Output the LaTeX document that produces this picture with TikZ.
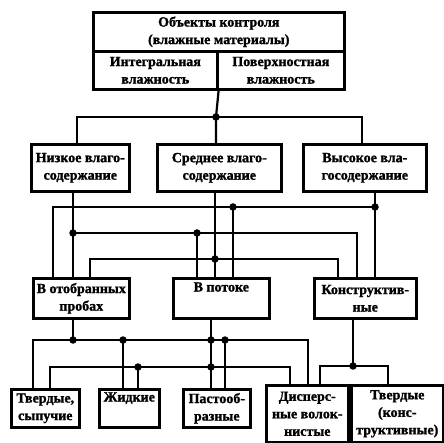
\documentclass[tikz,border=0pt]{standalone}
\usepackage{fontspec}
\setmainfont{Liberation Serif}[BoldFeatures={FakeBold=1.4}]
\begin{document}
\begin{tikzpicture}[x=1pt,y=-1pt,
  box/.style={draw, line width=2.6pt, inner sep=0pt, align=center, anchor=north west,
    font=\bfseries\fontsize{14}{17.5}\selectfont},
  wire/.style={line width=2.2pt},
  dot/.style={circle, fill, inner sep=0pt, minimum size=7.5pt}]
\useasboundingbox (0,0) rectangle (444,443);

% top block: objects of control
\node[box, minimum width=251, minimum height=39] (head) at (92,11) {Объекты контроля\\(влажные материалы)};
\node[box, minimum width=124, minimum height=38] (integ) at (92,50) {Интегральная\\влажность};
\node[box, minimum width=127, minimum height=38] (surf) at (216,50) {Поверхностная\\влажность};

% moisture content levels
\node[box, minimum width=98, minimum height=47] (low) at (30,143) {Низкое влаго-\\содержание};
\node[box, minimum width=124, minimum height=47] (mid) at (156,143) {Среднее влаго-\\содержание};
\node[box, minimum width=123, minimum height=47] (high) at (302,143) {Высокое вла-\\госодержание};

% measurement conditions
\node[box, minimum width=96, minimum height=40] (probe) at (32,277) {В отобранных\\пробах};
\node[box, minimum width=96, minimum height=40] (flow) at (172,277) {В потоке\\\strut};
\node[box, minimum width=102, minimum height=40] (constr) at (313,277) {Конструктив-\\ные};

% material kinds
\node[box, minimum width=68, minimum height=38] (loose) at (10,388) {Твердые,\\сыпучие};
\node[box, minimum width=60, minimum height=38] (liquid) at (98,388) {Жидкие\\\strut};
\node[box, minimum width=67, minimum height=38] (paste) at (182,388) {Пастооб-\\разные};
\node[box, minimum width=82, minimum height=57] (disp) at (265,384) {Дисперс-\\ные волок-\\нистые};
\node[box, minimum width=92, minimum height=57] (solid) at (350,384) {Твердые\\(конс-\\труктивные)};

% junction and bend points
\coordinate (j0) at (216,117);
\coordinate (a1) at (77,117);
\coordinate (a2) at (362,117);

\coordinate (jLow) at (73,233);
\coordinate (jMid) at (215,259);
\coordinate (jHigh) at (375,207);
\coordinate (b1) at (53,207);
\coordinate (b2) at (233,207);
\coordinate (c2) at (197,233);
\coordinate (c3) at (357,233);
\coordinate (e1) at (90,259);
\coordinate (e3) at (338,259);

\coordinate (jProbe) at (73,340);
\coordinate (p1) at (33,340);
\coordinate (p2) at (123,340);
\coordinate (p3) at (211,340);
\coordinate (p4) at (225,340);
\coordinate (p5) at (308,340);
\coordinate (q1) at (50,367);
\coordinate (q2) at (138,367);
\coordinate (q3) at (211,367);
\coordinate (q4) at (290,367);
\coordinate (jConstr) at (353,366);
\coordinate (r1) at (320,366);
\coordinate (r2) at (388,366);

% top block to moisture levels
\draw[wire] (integ.south east) -- (j0) -- (j0 |- mid.north);
\draw[wire] (a1 |- low.north) -- (a1) -- (a2) -- (a2 |- high.north);

% moisture levels to measurement conditions
\draw[wire] (jLow |- low.south) -- (jLow |- probe.north);
\draw[wire] (jMid |- mid.south) -- (jMid |- flow.north);
\draw[wire] (jHigh |- high.south) -- (jHigh |- constr.north);
\draw[wire] (b1 |- probe.north) -- (b1) -- (jHigh);
\draw[wire] (b2) -- (b2 |- flow.north);
\draw[wire] (jLow) -- (c3) -- (c3 |- constr.north);
\draw[wire] (c2) -- (c2 |- flow.north);
\draw[wire] (e1 |- probe.north) -- (e1) -- (e3) -- (e3 |- constr.north);

% measurement conditions to material kinds
\draw[wire] (jProbe |- probe.south) -- (jProbe);
\draw[wire] (p1 |- loose.north) -- (p1) -- (p5) -- (p5 |- disp.north);
\draw[wire] (p2) -- (p2 |- liquid.north);
\draw[wire] (p4) -- (p4 |- paste.north);
\draw[wire] (p3 |- flow.south) -- (p3 |- paste.north);
\draw[wire] (q1 |- loose.north) -- (q1) -- (q4) -- (q4 |- disp.north);
\draw[wire] (q2) -- (q2 |- liquid.north);
\draw[wire] (jConstr |- constr.south) -- (jConstr);
\draw[wire] (r1 |- disp.north) -- (r1) -- (r2) -- (r2 |- solid.north);

% junction dots
\foreach \p/\n in {j0/d0, jLow/d1, jMid/d2, jHigh/d3, b2/d4, c2/d5,
                   jProbe/d6, p2/d7, p3/d8, p4/d9, q2/d10, q3/d11, jConstr/d12}
  \node[dot] (\n) at (\p) {};
\end{tikzpicture}
\end{document}
